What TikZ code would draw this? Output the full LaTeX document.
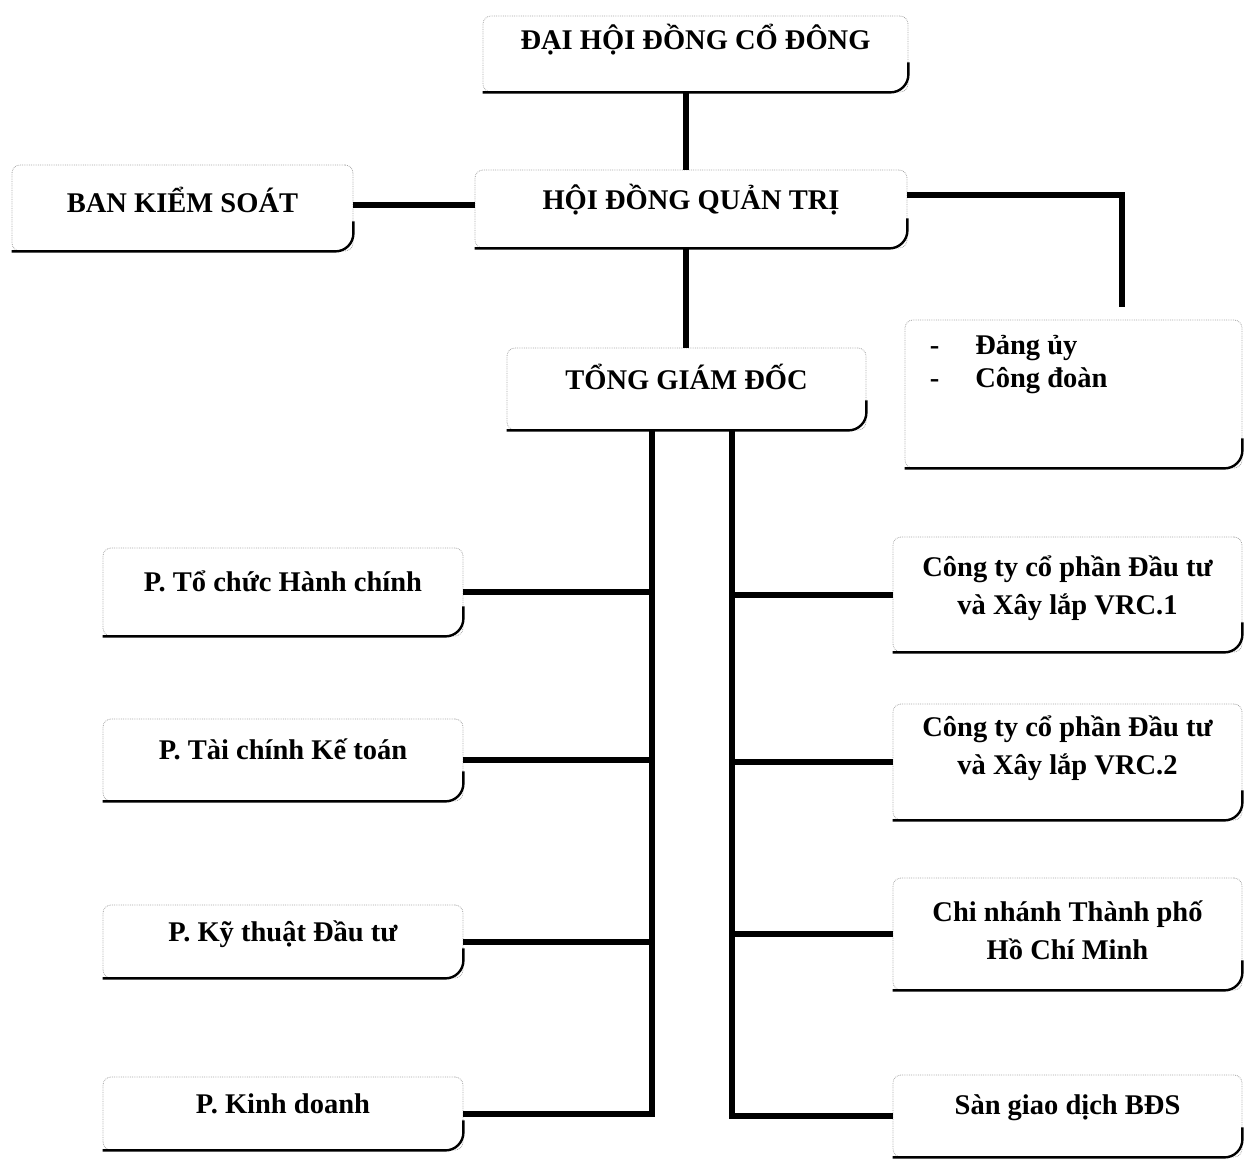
\documentclass[tikz,border=0pt]{standalone}
\usepackage{fontspec}
\setmainfont{Liberation Serif}
\newcommand\bxtext[2]{\raisebox{#1}[0pt][0pt]{\begin{tabular}{@{}c@{}}#2\end{tabular}}}
\tikzset{
  orgbox/.style={draw=black!35, densely dotted, line width=0.8pt, rounded corners=8pt,
    inner sep=0pt, font=\fontsize{28.5}{38}\selectfont\bfseries},
  shadeline/.style={line width=2.4pt, rounded corners=18pt, solid},
  link/.style={line width=6pt},
}
\begin{document}
\begin{tikzpicture}[x=1pt,y=-1pt]
\useasboundingbox (0,0) rectangle (1252,1159);
% top levels
\node[orgbox, minimum width=425pt, minimum height=76pt] (dh) at (695.5,54) {\bxtext{5.5pt}{ĐẠI HỘI ĐỒNG CỔ ĐÔNG}};
\node[orgbox, minimum width=341pt, minimum height=86pt] (bks) at (182.5,208) {\bxtext{-3.5pt}{BAN KIỂM SOÁT}};
\node[orgbox, minimum width=432pt, minimum height=78pt] (hdqt) at (691,209) {\bxtext{0.5pt}{HỘI ĐỒNG QUẢN TRỊ}};
\node[orgbox, minimum width=359pt, minimum height=82pt] (tgd) at (686.5,389) {\bxtext{0.5pt}{TỔNG GIÁM ĐỐC}};
\node[orgbox, minimum width=337pt, minimum height=148pt] (du) at (1073.5,394) {};
\node[anchor=north west, inner sep=0pt, font=\fontsize{28.5}{33}\selectfont\bfseries] (dutext)
  at ([shift={(25,12)}]du.north west)
  {\begin{tabular}{@{}l@{\hspace{36pt}}l@{}}-&Đảng ủy\\-&Công đoàn\end{tabular}};
% left column
\node[orgbox, minimum width=360pt, minimum height=88pt] (lb1) at (283,592) {\bxtext{1.5pt}{P. Tổ chức Hành chính}};
\node[orgbox, minimum width=360pt, minimum height=82pt] (lb2) at (283,760) {\bxtext{1.5pt}{P. Tài chính Kế toán}};
\node[orgbox, minimum width=360pt, minimum height=73pt] (lb3) at (283,941.5) {\bxtext{1pt}{P. Kỹ thuật Đầu tư}};
\node[orgbox, minimum width=360pt, minimum height=73pt] (lb4) at (283,1113.5) {\bxtext{1.5pt}{P. Kinh doanh}};
% right column
\node[orgbox, minimum width=349pt, minimum height=115pt] (rb1) at (1067.5,594.5) {\bxtext{0.5pt}{Công ty cổ phần Đầu tư\\và Xây lắp VRC.1}};
\node[orgbox, minimum width=349pt, minimum height=116pt] (rb2) at (1067.5,762) {\bxtext{7.5pt}{Công ty cổ phần Đầu tư\\và Xây lắp VRC.2}};
\node[orgbox, minimum width=349pt, minimum height=112pt] (rb3) at (1067.5,934) {\bxtext{-5.5pt}{Chi nhánh Thành phố\\Hồ Chí Minh}};
\node[orgbox, minimum width=349pt, minimum height=82pt] (rb4) at (1067.5,1116) {\bxtext{2.5pt}{Sàn giao dịch BĐS}};
% dark lower/right edges
\foreach \b in {dh,bks,hdqt,tgd,du,lb1,lb2,lb3,lb4,rb1,rb2,rb3,rb4}
  \draw[shadeline] (\b.south west) -- (\b.south east) -- ([yshift=30pt]\b.south east);
% connectors
\coordinate (cx) at (686,0);
\coordinate (tl) at (652,0);
\coordinate (tr) at (732,0);
\coordinate (durise) at (1122,307);
\draw[link] (dh.south -| cx) -- (hdqt.north -| cx);
\draw[link] (hdqt.south -| cx) -- (tgd.north -| cx);
\draw[link] ([yshift=3pt]bks.east) -- ([yshift=3pt]hdqt.west |- bks.east);
\draw[link] ([yshift=14pt]hdqt.east) -| (durise);
\draw[link] (tgd.south -| tl) |- (lb4.east);
\draw[link] (tgd.south -| tr) |- (rb4.west);
\foreach \b in {lb1,lb2,lb3}
  \draw[link] (\b.east) -- (\b.east -| tl);
\foreach \b in {rb1,rb2,rb3}
  \draw[link] (\b.west -| tr) -- (\b.west);
\end{tikzpicture}
\end{document}
